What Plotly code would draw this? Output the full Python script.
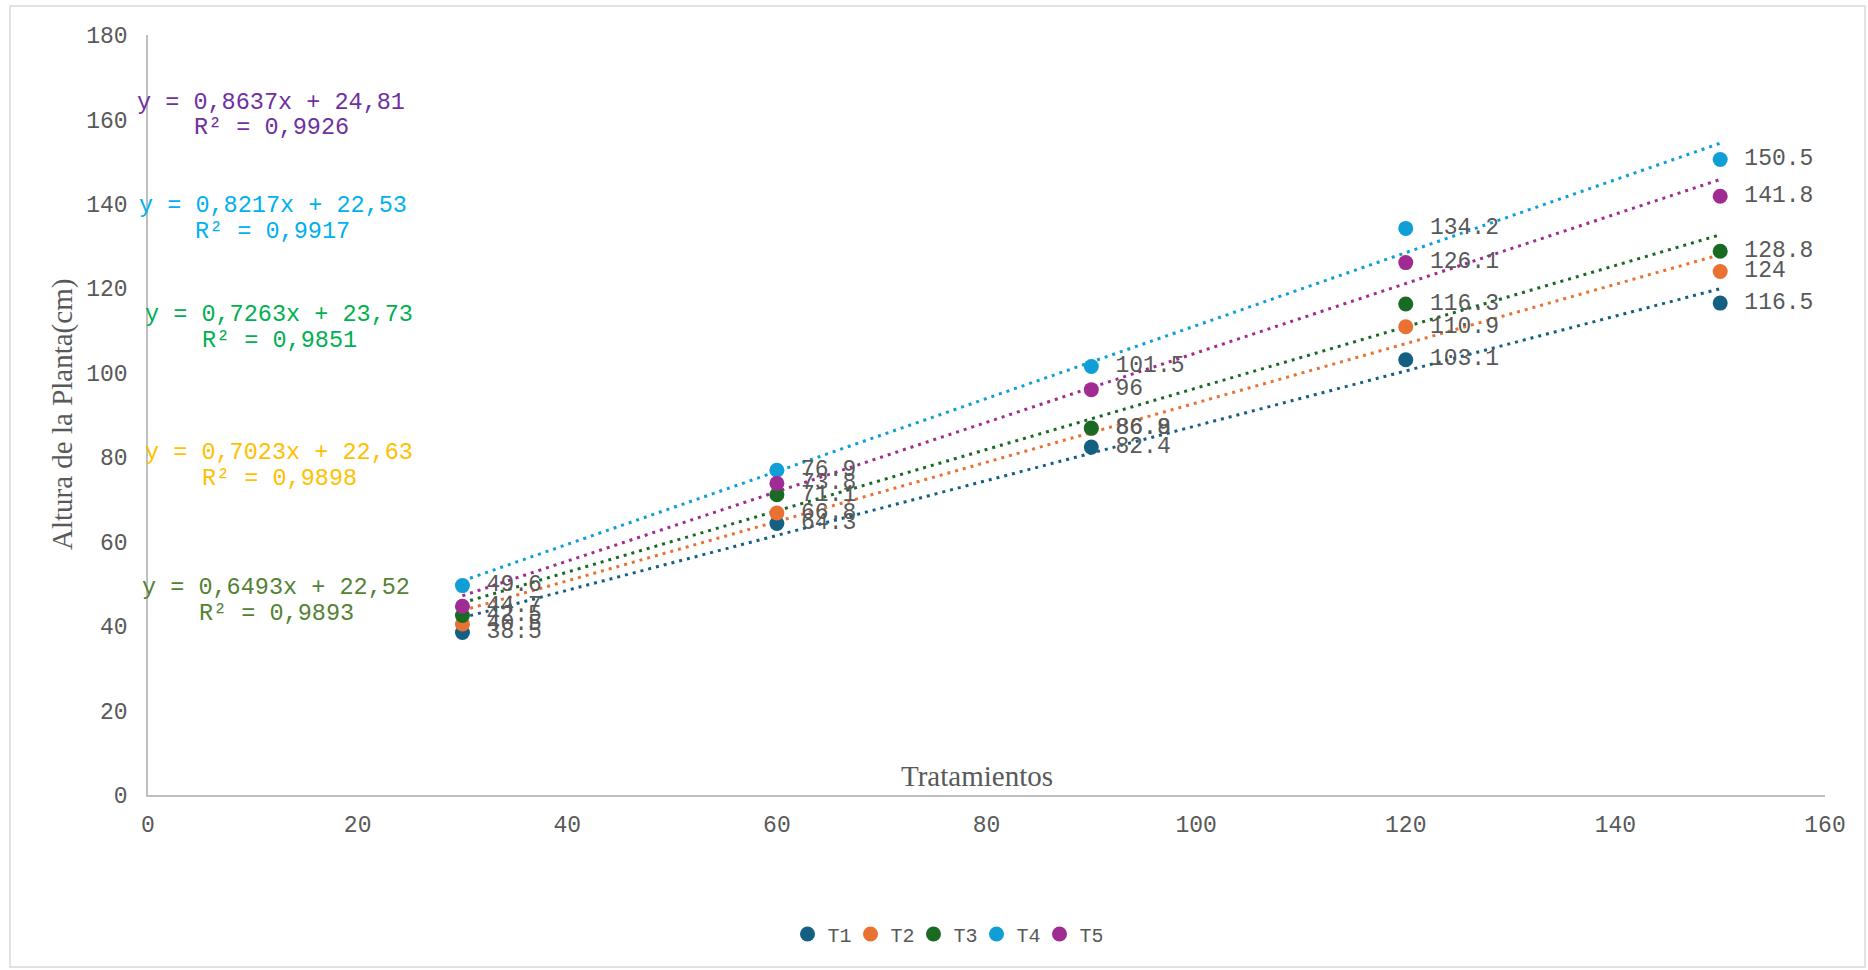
import plotly.graph_objects as go

# Treatment doses (x) and plant height per treatment series (cm)
dosis = [30, 60, 90, 120, 150]
series_names = ["T1", "T2", "T3", "T4", "T5"]
t1 = [38.5, 64.3, 82.4, 103.1, 116.5]
t2 = [40.5, 66.8, 86.8, 110.9, 124.0]
t3 = [42.5, 71.1, 86.9, 116.3, 128.8]
t4 = [49.6, 76.9, 101.5, 134.2, 150.5]
t5 = [44.7, 73.8, 96.0, 126.1, 141.8]

# Linear trendline coefficients (slope, intercept) and R² per series
pendientes = [0.6493, 0.7023, 0.7263, 0.8637, 0.8217]
interceptos = [22.52, 22.63, 23.73, 24.81, 22.53]
r2 = [0.9893, 0.9898, 0.9851, 0.9926, 0.9917]

x_ticks = [0, 20, 40, 60, 80, 100, 120, 140, 160]
y_ticks = [0, 20, 40, 60, 80, 100, 120, 140, 160, 180]

series_vals = [t1, t2, t3, t4, t5]
colors = ["#156082", "#E97132", "#196B24", "#0F9ED5", "#A02B93"]
eq_colors = ["#548235", "#FFC000", "#00B050", "#7030A0", "#00B0F0"]

W, H = 1868, 970
L, R, T, B = 148, 1825, 35, 795


def paper(px, py):
    return (px - L) / (R - L), (B - py) / (B - T)


MONO = "Liberation Mono, Courier New, monospace"
SERIF = "Liberation Serif, Times New Roman, serif"
GRAY = "#595959"

fig = go.Figure()

# dotted linear trendlines, drawn first so markers sit on top
for name, m, b, c in zip(series_names, pendientes, interceptos, colors):
    xs = [dosis[0], dosis[-1]]
    fig.add_trace(go.Scatter(
        x=xs, y=[m * v + b for v in xs], mode="lines",
        line=dict(color=c, width=3, dash="3px,5px"),
        showlegend=False, hoverinfo="skip",
    ))

for name, vals, c in zip(series_names, series_vals, colors):
    fig.add_trace(go.Scatter(
        x=dosis, y=vals, name=name, mode="markers+text",
        marker=dict(color=c, size=15),
        text=["\u00a0" + f"{v:g}" for v in vals], textposition="middle right",
        textfont=dict(family=MONO, size=23, color=GRAY),
    ))

# regression equations at the left of the plot area
eq_pos = [(140, 587, 197, 613), (143, 452, 200, 478), (143, 314, 200, 340),
          (135, 102, 192, 127), (137, 205, 193, 232)]
for m, b, rr, c, (x1, y1, x2, y2) in zip(pendientes, interceptos, r2, eq_colors, eq_pos):
    eq = f"y = {m:.4f}x + {b:.2f}".replace(".", ",")
    rt = f"R² = {rr:.4f}".replace(".", ",")
    for txt, (px, py) in ((eq, (x1, y1)), (rt, (x2, y2))):
        ax, ay = paper(px, py)
        fig.add_annotation(x=ax, y=ay, xref="paper", yref="paper", text=txt,
                           showarrow=False, xanchor="left", yanchor="middle",
                           font=dict(family=MONO, size=23.5, color=c))

tx, ty = paper(977, 776)
fig.add_annotation(x=tx, y=ty, xref="paper", yref="paper", text="Tratamientos",
                   showarrow=False, xanchor="center", yanchor="middle",
                   font=dict(family=SERIF, size=29, color=GRAY))
yx, yy = paper(62, 415)
fig.add_annotation(x=yx, y=yy, xref="paper", yref="paper", text="Altura de la Planta(cm)",
                   showarrow=False, textangle=-90, xanchor="center", yanchor="middle",
                   font=dict(family=SERIF, size=29, color=GRAY))

# outer chart border
bx0, by0 = paper(10, 967)
bx1, by1 = paper(1865, 6)
fig.add_shape(type="rect", xref="paper", yref="paper", x0=bx0, y0=by0, x1=bx1, y1=by1,
              line=dict(color="#D9D9D9", width=1.5), fillcolor="rgba(0,0,0,0)", layer="below")

lx, ly = paper(945, 934)
fig.update_layout(
    width=W, height=H,
    margin=dict(l=L, r=W - R, t=T, b=H - B),
    paper_bgcolor="white", plot_bgcolor="white",
    showlegend=True,
    legend=dict(orientation="h", x=lx, y=ly, xanchor="center", yanchor="middle",
                font=dict(family=MONO, size=20, color=GRAY),
                itemwidth=30, entrywidth=18, entrywidthmode="pixels"),
    xaxis=dict(range=[0, 160], tickvals=x_ticks, showgrid=False, zeroline=False,
               showline=True, linecolor="#BFBFBF", linewidth=1.5, ticks="",
               ticklabelstandoff=8,
               tickfont=dict(family=MONO, size=23, color=GRAY)),
    yaxis=dict(range=[0, 180], tickvals=y_ticks, showgrid=False, zeroline=False,
               showline=True, linecolor="#BFBFBF", linewidth=1.5, ticks="",
               ticklabelstandoff=14,
               tickfont=dict(family=MONO, size=23, color=GRAY)),
)

fig.write_html("out.html")
